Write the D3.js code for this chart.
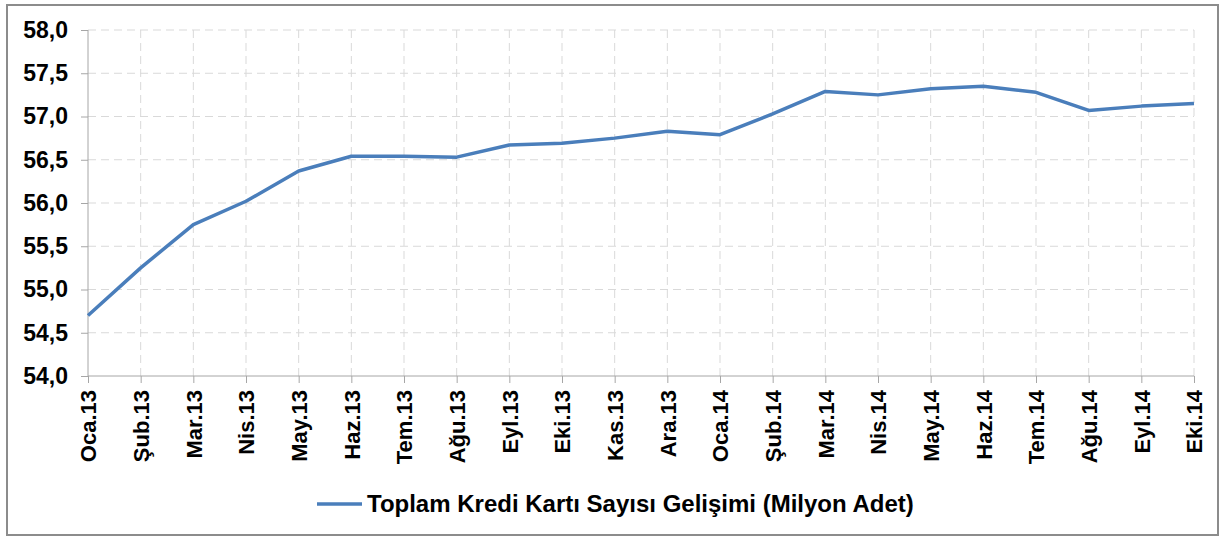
<!DOCTYPE html>
<html><head><meta charset="utf-8">
<script src="https://cdn.jsdelivr.net/npm/d3@7"></script>
<style>body{margin:0;background:#fff}svg{display:block}text{font-family:"Liberation Sans",Arial,sans-serif;font-weight:bold;fill:#000}</style>
</head><body>
<script>
const categories = ["Oca.13","Şub.13","Mar.13","Nis.13","May.13","Haz.13","Tem.13","Ağu.13","Eyl.13","Eki.13","Kas.13","Ara.13","Oca.14","Şub.14","Mar.14","Nis.14","May.14","Haz.14","Tem.14","Ağu.14","Eyl.14","Eki.14"];
const values = [54.70,55.25,55.75,56.02,56.37,56.54,56.54,56.53,56.67,56.69,56.75,56.83,56.79,57.03,57.29,57.25,57.32,57.35,57.28,57.07,57.12,57.15];
const yTicks = [54.0,54.5,55.0,55.5,56.0,56.5,57.0,57.5,58.0];
const seriesName = "Toplam Kredi Kartı Sayısı Gelişimi (Milyon Adet)";

const W=1221,H=539;
const svg=d3.select("body").append("svg").attr("width",W).attr("height",H);
svg.append("rect").attr("x",7).attr("y",5).attr("width",1211).attr("height",530).attr("fill","#fff").attr("stroke","#8c8c8c").attr("stroke-width",2);

const x=d3.scalePoint().domain(categories).range([88,1194]);
const y=d3.scaleLinear().domain([54,58]).range([376,30]);

// grid
svg.append("g").selectAll("line").data(yTicks.slice(1)).join("line")
 .attr("x1",88).attr("x2",1194).attr("y1",d=>y(d)).attr("y2",d=>y(d))
 .attr("stroke","#d9d9d9").attr("stroke-dasharray","8,5");
svg.append("g").selectAll("line").data(categories.slice(1)).join("line")
 .attr("x1",d=>x(d)).attr("x2",d=>x(d)).attr("y1",30).attr("y2",376)
 .attr("stroke","#d9d9d9").attr("stroke-dasharray","8,5");

const fmt=d=>d3.format(".1f")(d).replace(".",",");
const ya=svg.append("g").attr("transform","translate(88,0)")
 .call(d3.axisLeft(y).tickValues(yTicks).tickFormat(fmt).tickSize(7).tickPadding(13));
ya.select(".domain").attr("stroke","#a6a6a6").attr("d","M0,30V376");
ya.selectAll(".tick line").attr("stroke","#a6a6a6");
ya.selectAll("text").style("font-size","23px").attr("fill","#000");

const xa=svg.append("g").attr("transform","translate(0,376)")
 .call(d3.axisBottom(x).tickSize(7).tickPadding(8));
xa.select(".domain").attr("stroke","#a6a6a6").attr("d","M88,0H1194");
xa.selectAll(".tick line").attr("stroke","#a6a6a6");
xa.selectAll("text").style("font-size","22px").attr("fill","#000")
 .attr("transform","rotate(-90)").attr("text-anchor","end").attr("x",-14).attr("y",0).attr("dy","0.36em");

svg.append("path").datum(values).attr("fill","none").attr("stroke","#4a7ebb").attr("stroke-width",3.5)
 .attr("stroke-linejoin","round")
 .attr("d",d3.line().x((d,i)=>x(categories[i])).y(d=>y(d)));

const lg=svg.append("g");
lg.append("line").attr("x1",317).attr("x2",362).attr("y1",504).attr("y2",504).attr("stroke","#4a7ebb").attr("stroke-width",3.5);
lg.append("text").attr("x",367).attr("y",512).style("font-size","24px").text(seriesName);
</script>
</body></html>
